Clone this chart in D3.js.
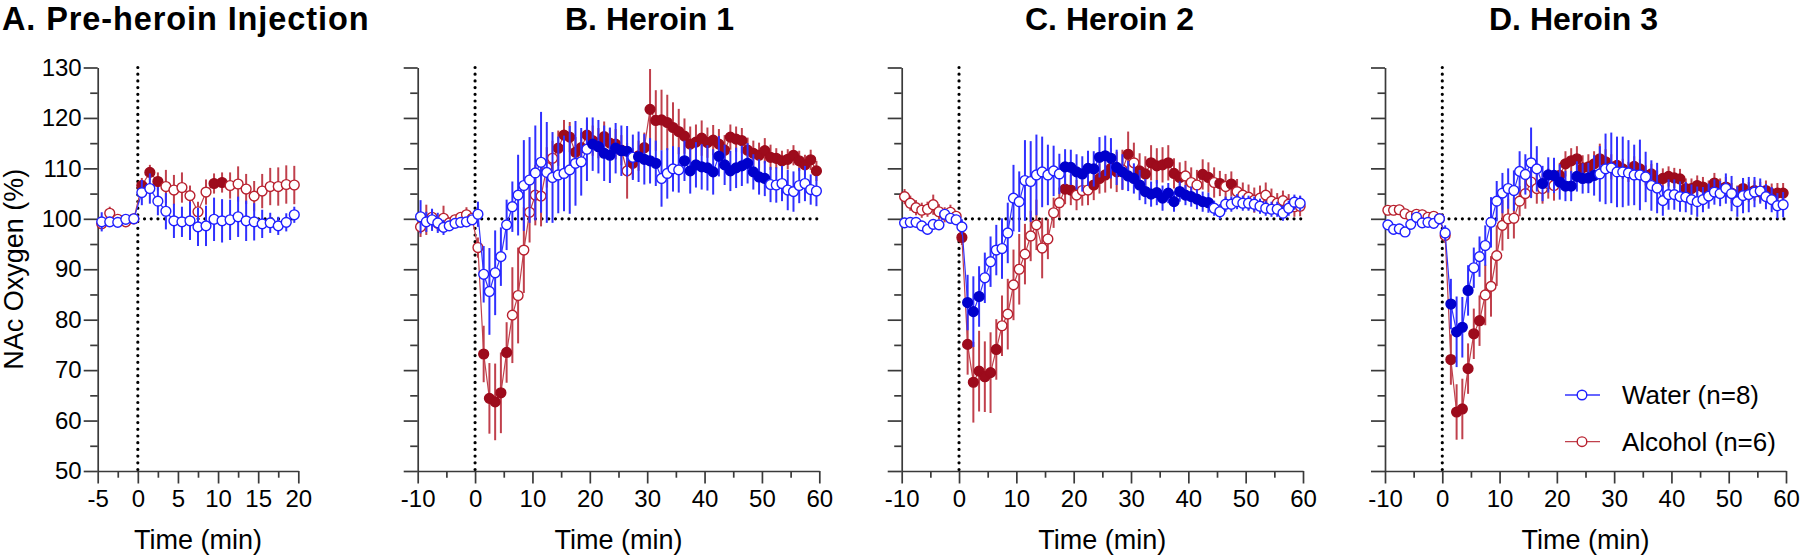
<!DOCTYPE html>
<html><head><meta charset="utf-8">
<script src="https://cdn.jsdelivr.net/npm/d3@7"></script>
<style>
body{margin:0;background:#fff}
svg{display:block}
text{font-family:"Liberation Sans",Arial,Helvetica,sans-serif;fill:#000}
</style>
</head><body><svg id="c" width="1800" height="556"></svg>
<script>
// ---------- data ----------
const timesA = [-4.5,-3.5,-2.5,-1.5,-0.5,0.5,1.5,2.5,3.5,4.5,5.5,6.5,7.5,8.5,9.5,10.5,11.5,12.5,13.5,14.5,15.5,16.5,17.5,18.5,19.5];
const timesH = [-9.5,-8.5,-7.5,-6.5,-5.5,-4.5,-3.5,-2.5,-1.5,-0.5,
  0.5,1.5,2.5,3.5,4.5,5.5,6.5,7.5,8.5,9.5,10.5,11.5,12.5,13.5,14.5,15.5,16.5,17.5,18.5,19.5,
  20.5,21.5,22.5,23.5,24.5,25.5,26.5,27.5,28.5,29.5,30.5,31.5,32.5,33.5,34.5,35.5,36.5,37.5,38.5,39.5,
  40.5,41.5,42.5,43.5,44.5,45.5,46.5,47.5,48.5,49.5,50.5,51.5,52.5,53.5,54.5,55.5,56.5,57.5,58.5,59.5];

const yMajor = [50,60,70,80,90,100,110,120,130];
const yMinor = [55,65,75,85,95,105,115,125];
const xMajorA = [-5,0,5,10,15,20];
const xMinorA = [-2.5,2.5,7.5,12.5,17.5];
const xMajorH = [-10,0,10,20,30,40,50,60];
const xMinorH = [-5,5,15,25,35,45,55];

const titles = ["A. Pre-heroin Injection","B. Heroin 1","C. Heroin 2","D. Heroin 3"];
const seriesNames = ["Water (n=8)","Alcohol (n=6)"];

// Panel A
const waterA = [99.4,99.4,99.3,99.9,100.0,105.2,106.0,103.5,101.5,99.6,99.4,99.6,98.4,98.6,99.9,99.6,99.8,100.4,99.6,99.4,99.0,99.2,98.6,99.3,100.8];
const waterA_sem = [1.9,1.0,0.6,0.6,0.5,2.5,3.0,2.8,3.6,3.4,3.0,3.8,3.8,4.0,4.3,4.3,4.0,4.0,4.0,3.7,2.8,2.0,1.8,1.8,1.6];
const waterA_sig = [0,0,0,0,0,0,0,0,0,0,0,0,0,0,0,0,0,0,0,0,0,0,0,0,0];
const alcA = [99.0,101.1,99.9,99.4,100.0,106.6,109.2,107.4,106.4,105.7,106.2,104.6,101.4,105.3,107.0,107.2,106.6,106.9,105.9,104.5,105.5,106.4,106.4,106.8,106.7];
const alcA_sem = [1.0,1.3,0.6,0.6,0.5,1.5,1.5,1.8,3.3,3.0,3.0,2.0,2.0,2.5,2.0,2.0,2.6,3.5,3.0,3.0,3.4,3.7,3.8,3.8,3.8];
const alcA_sig = [0,0,0,0,0,1,1,1,0,0,0,0,0,0,1,1,0,0,0,0,0,0,0,0,0];

// Panel B (Heroin 1)
const waterB = [100.4,99.4,99.8,99.2,98.3,98.6,99.1,99.3,99.4,99.8,
  100.9,89.0,85.6,89.3,92.5,98.8,102.4,104.7,106.6,107.7,
  109.1,111.2,109.2,108.2,108.7,109.0,109.7,111.0,111.3,113.8,
  114.8,114.3,113.0,112.6,114.0,113.5,113.4,112.2,112.3,111.8,
  111.5,111.0,108.0,109.0,109.9,109.7,111.5,109.5,110.7,110.3,
  110.1,109.3,112.4,110.7,109.5,110.1,110.5,111.0,109.3,108.3,
  108.0,106.8,106.7,107.0,105.7,105.4,106.6,107.0,105.8,105.5];
const waterB_sem = [3.3,2.0,2.2,2.0,1.5,1.0,0.8,0.8,0.8,0.8,
  2.5,5.6,8.6,8.4,5.8,5.0,5.0,8.0,9.0,8.5,
  9.4,10.0,10.0,9.0,7.6,7.5,8.7,8.4,6.7,6.3,
  5.3,5.3,5.5,5.5,5.0,5.0,5.0,4.5,5.0,5.0,
  4.5,4.5,5.6,5.0,4.5,4.5,4.0,4.5,4.5,4.5,
  4.5,4.5,4.0,4.0,4.0,4.0,4.0,4.0,3.5,3.5,
  3.5,3.5,3.5,3.5,4.0,4.0,3.5,3.5,3.0,3.0];
const waterB_sig = [0,0,0,0,0,0,0,0,0,0, 0,0,0,0,0,0,0,0,0,0, 0,0,0,0,0,0,0,0,0,0,
  1,1,1,1,1,1,1,0,1,1, 1,1,0,0,0,0,1,1,1,1, 1,1,1,1,1,1,1,1,1,1, 1,0,0,0,0,0,0,0,0,0];
const alcB = [98.4,99.8,100.3,99.1,100.1,99.2,99.8,100.3,100.8,100.1,
  94.3,73.2,64.4,63.7,65.5,73.5,80.9,84.8,93.8,101.3,
  104.7,104.5,110.2,112.0,114.0,116.6,116.2,113.2,114.1,116.6,
  115.5,115.0,116.3,115.0,114.8,113.6,109.5,111.0,112.5,114.1,
  121.7,119.5,119.6,119.1,118.1,117.3,116.4,114.8,115.2,116.0,
  115.1,115.6,114.8,113.6,116.2,115.8,115.5,113.6,113.0,112.6,
  113.5,112.2,112.0,111.5,111.8,112.6,111.5,110.7,111.7,109.5];
const alcB_sem = [2.0,3.0,1.5,1.5,2.5,1.0,1.0,1.0,1.5,1.0,
  2.0,5.6,7.0,7.6,8.0,6.0,9.5,9.5,8.5,6.0,
  6.0,6.0,4.0,3.5,3.5,3.0,3.0,3.0,3.0,3.0,
  3.0,3.0,3.0,3.0,3.0,3.0,5.5,3.0,3.0,3.0,
  8.0,6.0,6.0,5.5,5.0,4.5,3.5,3.5,3.5,3.5,
  3.0,3.0,3.0,3.0,2.5,2.5,2.5,2.5,2.5,2.5,
  2.5,2.5,2.0,2.0,2.0,2.0,2.0,2.0,2.0,2.0];
const alcB_sig = [0,0,0,0,0,0,0,0,0,0, 0,1,1,1,1,1,0,0,0,0, 0,0,0,0,1,1,1,1,1,1,
  1,1,1,1,1,1,0,1,1,1, 1,1,1,1,1,1,1,1,1,1, 1,1,1,1,1,1,1,1,1,1, 1,1,1,1,1,1,1,1,1,1];

// Panel C (Heroin 2)
const waterC = [99.2,99.3,99.3,98.6,97.9,98.9,98.8,100.9,100.1,99.8,
  98.4,83.4,81.6,84.6,88.3,91.5,93.8,94.1,97.2,104.1,
  103.4,107.6,107.4,108.7,109.3,108.7,109.5,108.9,110.3,110.2,
  109.3,108.9,110.0,109.9,112.2,112.5,112.0,110.2,109.3,108.5,
  108.0,106.7,105.4,104.9,105.2,104.1,105.1,103.4,105.4,104.7,
  104.4,103.9,103.4,103.2,102.1,101.4,102.9,102.9,103.4,103.1,
  103.1,102.9,102.5,102.1,101.9,101.9,101.1,102.1,103.3,103.1];
const waterC_sem = [1.0,1.0,1.0,1.0,1.0,1.0,1.0,1.0,1.0,1.0,
  1.5,5.5,7.0,6.0,5.0,5.0,5.0,6.0,6.0,6.6,
  6.0,8.0,8.0,8.0,7.0,6.0,5.0,4.0,3.5,3.5,
  3.5,3.5,3.5,3.5,4.0,4.0,4.0,3.5,3.5,3.0,
  3.0,3.0,2.5,2.5,2.5,2.5,2.0,2.0,2.0,2.0,
  2.0,2.0,2.0,2.0,1.5,1.5,1.5,1.5,1.5,1.5,
  1.5,1.5,1.5,1.5,1.5,1.5,1.5,1.5,1.5,1.5];
const waterC_sig = [0,0,0,0,0,0,0,0,0,0, 0,1,1,1,0,0,0,0,0,0, 0,0,0,0,0,0,0,0,1,1,
  1,1,1,1,1,1,1,1,1,1, 1,1,1,1,1,1,1,1,1,1, 1,1,1,1,0,0,0,0,0,0, 0,0,0,0,0,0,0,0,0,0];
const alcC = [104.4,103.1,102.2,101.7,101.9,102.8,101.4,100.8,101.3,100.5,
  96.3,75.1,67.6,69.8,68.7,69.5,74.1,78.8,81.1,86.9,
  90.0,93.0,96.6,98.8,94.2,96.0,101.2,103.2,105.9,105.7,
  104.7,105.6,105.7,106.7,108.0,108.7,110.0,109.3,109.7,112.8,
  111.1,109.5,108.9,111.1,110.5,110.7,111.1,109.0,108.2,108.5,
  107.2,106.7,108.8,108.2,107.2,107.0,106.4,106.9,105.4,104.7,
  104.3,103.7,104.1,104.7,103.5,103.1,103.6,102.9,102.4,102.5];
const alcC_sem = [1.5,1.5,1.5,1.5,1.5,2.0,1.5,1.5,1.5,1.0,
  1.5,6.0,8.0,8.0,7.0,8.0,6.0,6.0,7.0,7.0,
  7.0,6.0,5.0,5.0,6.0,4.0,3.0,3.0,3.0,3.0,
  3.0,3.0,3.0,3.0,3.0,3.5,4.0,4.0,4.0,4.5,
  4.0,3.5,3.5,3.5,3.5,3.5,3.5,3.0,3.0,3.0,
  3.0,3.0,3.0,3.0,3.0,2.5,2.5,2.5,2.5,2.5,
  2.5,2.5,2.5,2.5,2.5,2.0,2.0,2.0,2.0,2.0];
const alcC_sig = [0,0,0,0,0,0,0,0,0,0, 1,1,1,1,1,1,1,0,0,0, 0,0,0,0,0,0,0,0,1,1,
  0,0,0,1,1,1,1,1,0,1, 0,1,1,1,1,1,1,1,1,0, 0,0,1,1,0,1,0,1,0,0, 0,0,0,0,0,0,0,0,0,0];

// Panel D (Heroin 3)
const waterD = [98.8,97.9,98.0,97.4,98.9,100.3,99.2,99.3,99.1,100.0,
  97.2,83.1,77.6,78.5,85.8,90.3,92.5,94.7,99.3,103.5,
  105.1,106.0,105.6,109.4,108.8,111.1,109.9,107.0,108.7,108.6,
  107.3,106.5,106.5,108.4,108.0,108.1,108.6,108.9,109.9,110.1,
  109.3,109.3,109.1,108.7,108.7,108.3,106.6,106.1,103.6,104.8,
  104.8,104.4,104.3,103.8,103.4,103.8,104.5,105.3,105.0,106.0,
  105.0,103.4,104.6,104.8,105.3,105.5,104.4,103.8,102.6,102.8];
const waterD_sem = [1.0,1.0,1.0,1.0,1.0,1.0,1.0,1.0,1.0,1.0,
  1.5,5.0,7.0,6.0,5.0,4.0,4.0,4.0,5.0,4.0,
  4.0,4.0,4.0,4.0,4.0,7.0,4.5,3.5,3.5,3.5,
  3.5,3.0,3.0,3.0,3.0,3.0,4.0,5.5,7.0,7.0,
  7.0,7.0,6.5,6.0,7.0,5.0,5.0,5.0,3.0,3.0,
  3.0,3.0,3.0,3.0,3.0,2.5,2.5,2.5,2.5,3.0,
  3.5,3.0,3.5,3.5,3.0,2.5,2.5,2.5,2.5,2.5];
const waterD_sig = [0,0,0,0,0,0,0,0,0,0, 0,1,1,1,1,0,0,0,0,0, 0,0,0,0,0,0,0,1,1,1,
  1,1,1,1,1,1,1,0,0,0, 0,0,0,0,0,0,0,0,0,0, 0,0,0,0,0,0,0,0,0,0, 0,0,0,0,0,0,0,0,0,0];
const alcD = [101.7,101.7,101.8,101.0,100.5,100.9,100.8,100.3,100.5,100.0,
  96.7,72.1,61.7,62.3,70.3,77.2,79.8,84.9,86.6,92.7,
  98.7,100.0,100.1,103.5,105.0,107.3,106.0,106.0,107.0,106.6,
  108.6,110.9,111.5,111.9,110.1,110.3,110.9,111.9,111.3,110.3,
  110.6,109.9,109.3,110.4,109.9,108.6,108.9,107.6,108.0,108.4,
  108.1,107.9,106.0,106.0,106.6,106.3,105.6,107.1,106.0,106.3,
  105.1,104.6,106.0,105.3,105.6,105.3,105.6,105.0,105.1,105.1];
const alcD_sem = [1.0,1.0,1.0,1.0,1.0,1.0,1.0,1.0,1.0,1.0,
  1.5,5.0,5.5,6.0,5.0,5.0,5.0,6.0,6.0,6.0,
  5.0,4.0,4.0,3.0,3.0,3.0,3.0,3.0,3.0,3.0,
  2.5,2.5,2.5,2.5,2.5,2.5,2.5,3.0,2.5,2.5,
  2.0,2.0,2.0,2.0,2.0,2.0,2.0,2.0,2.0,2.0,
  2.0,2.0,2.0,2.0,2.0,2.0,2.0,2.0,2.0,2.0,
  2.0,2.0,2.0,2.0,2.0,2.0,2.0,2.0,2.0,2.0];
const alcD_sig = [0,0,0,0,0,0,0,0,0,0, 0,1,1,1,1,1,1,0,0,0, 0,0,0,0,0,0,0,0,0,0,
  1,1,1,1,1,1,1,1,1,1, 1,1,1,1,1,1,1,1,1,1, 1,1,1,1,1,1,1,1,1,1, 1,1,1,1,1,1,1,1,1,1];

// ---------- layout / style ----------
const FONT = '"Liberation Sans",Arial,Helvetica,sans-serif';
const AX = "#3a3a3a";
const COL = {
  water:{open:"#1f1fff", fill:"#0000cc", bar:"#3030ff", line:"#3333ff"},
  alc:{open:"#b8202e", fill:"#9d0b1c", bar:"#c0404c", line:"#c0404c"}
};
const yTop = 67.5, yBot = 471;
const y = d3.scaleLinear().domain([50,130]).range([yBot, yTop]);
const fmt = d => String(d);   // plain hyphen-minus like the reference

const panels = [
  {title:titles[0], tx:2, tsize:32.5, tls:0.9, range:[97.7,298.3],  dom:[-5,20], maj:xMajorA, min:xMinorA, t:timesA,
   w:waterA, ws:waterA_sem, wf:waterA_sig, a:alcA, as:alcA_sem, af:alcA_sig, showY:true},
  {title:titles[1], tx:565, tsize:32, tls:0, range:[417.7,819.3], dom:[-10,60], maj:xMajorH, min:xMinorH, t:timesH,
   w:waterB, ws:waterB_sem, wf:waterB_sig, a:alcB, as:alcB_sem, af:alcB_sig},
  {title:titles[2], tx:1025, tsize:32, tls:0, range:[901.7,1303], dom:[-10,60], maj:xMajorH, min:xMinorH, t:timesH,
   w:waterC, ws:waterC_sem, wf:waterC_sig, a:alcC, as:alcC_sem, af:alcC_sig},
  {title:titles[3], tx:1489, tsize:32, tls:0, range:[1385,1786],  dom:[-10,60], maj:xMajorH, min:xMinorH, t:timesH,
   w:waterD, ws:waterD_sem, wf:waterD_sig, a:alcD, as:alcD_sem, af:alcD_sig}
];

const svg = d3.select("#c");

function styleAxis(g){
  g.attr("font-family", FONT).attr("font-size", 24);
  g.selectAll(".domain").attr("stroke", AX).attr("stroke-width", 1.7);
  g.selectAll(".tick line").attr("stroke", AX).attr("stroke-width", 1.7);
  g.selectAll(".tick text").attr("fill", "#000");
}

panels.forEach(p => {
  const g = svg.append("g");
  const x = d3.scaleLinear().domain(p.dom).range(p.range);

  // title
  g.append("text").attr("x", p.tx).attr("y", 29.5).attr("font-weight", "bold")
    .attr("font-size", p.tsize).attr("letter-spacing", p.tls).text(p.title);

  // y axis
  const ya = g.append("g").attr("transform", `translate(${p.range[0]},0)`)
    .call(d3.axisLeft(y).tickValues(yMajor).tickSize(14).tickPadding(2).tickSizeOuter(0)
      .tickFormat(p.showY ? fmt : () => ""));
  styleAxis(ya);
  const ym = g.append("g").attr("transform", `translate(${p.range[0]},0)`)
    .call(d3.axisLeft(y).tickValues(yMinor).tickSize(7.5).tickSizeOuter(0).tickFormat(() => ""));
  ym.select(".domain").remove();
  styleAxis(ym);

  // x axis
  const xa = g.append("g").attr("transform", `translate(0,${yBot})`)
    .call(d3.axisBottom(x).tickValues(p.maj).tickSize(12.5).tickPadding(6.5).tickSizeOuter(0)
      .tickFormat(fmt));
  styleAxis(xa);
  const xm = g.append("g").attr("transform", `translate(0,${yBot})`)
    .call(d3.axisBottom(x).tickValues(p.min).tickSize(6.7).tickSizeOuter(0).tickFormat(() => ""));
  xm.select(".domain").remove();
  styleAxis(xm);

  // x title
  g.append("text").attr("x", (p.range[0]+p.range[1])/2).attr("y", 549)
    .attr("text-anchor", "middle").attr("font-size", 27).text("Time (min)");

  // y title
  if (p.showY) {
    g.append("text").attr("transform", `translate(23,${(yTop+yBot)/2}) rotate(-90)`)
      .attr("text-anchor", "middle").attr("font-size", 27).text("NAc Oxygen (%)");
  }

  // reference dotted lines
  const dot = {stroke:"#000", "stroke-width":3.2, "stroke-linecap":"round", "stroke-dasharray":"0 6.7"};
  const vl = g.append("line").attr("x1", x(0)).attr("x2", x(0)).attr("y1", y(130)).attr("y2", y(50));
  const hl = g.append("line").attr("x1", x(0)).attr("x2", x(p.dom[1])).attr("y1", y(100)).attr("y2", y(100));
  [vl, hl].forEach(l => Object.entries(dot).forEach(([k,v]) => l.attr(k, v)));

  // series
  const series = [
    {vals:p.a, sem:p.as, sig:p.af, c:COL.alc},
    {vals:p.w, sem:p.ws, sig:p.wf, c:COL.water}
  ];
  series.forEach(s => {
    const data = p.t.map((t,i) => ({t, v:s.vals[i], e:s.sem[i], f:s.sig[i]}));
    const sg = g.append("g");
    sg.selectAll("line.err").data(data).join("line").attr("class","err")
      .attr("x1", d => x(d.t)).attr("x2", d => x(d.t))
      .attr("y1", d => y(d.v - d.e)).attr("y2", d => y(d.v + d.e))
      .attr("stroke", s.c.bar).attr("stroke-width", 2);
    sg.append("path").datum(data)
      .attr("d", d3.line().x(d => x(d.t)).y(d => y(d.v)))
      .attr("fill", "none").attr("stroke", s.c.line).attr("stroke-width", 1.2);
    sg.selectAll("circle").data(data).join("circle")
      .attr("cx", d => x(d.t)).attr("cy", d => y(d.v)).attr("r", 4.9)
      .attr("fill", d => d.f ? s.c.fill : "#fff")
      .attr("stroke", d => d.f ? s.c.fill : s.c.open)
      .attr("stroke-width", 1.4);
  });
});

// legend
const leg = svg.append("g");
[{name:seriesNames[0], c:COL.water, yy:395},{name:seriesNames[1], c:COL.alc, yy:441.7}].forEach(L => {
  leg.append("line").attr("x1", 1565).attr("x2", 1600).attr("y1", L.yy).attr("y2", L.yy)
    .attr("stroke", L.c.line).attr("stroke-width", 1.3);
  leg.append("circle").attr("cx", 1582).attr("cy", L.yy).attr("r", 4.8)
    .attr("fill", "#fff").attr("stroke", L.c.open).attr("stroke-width", 1.4);
  leg.append("text").attr("x", 1622).attr("y", L.yy).attr("dy", "0.36em")
    .attr("font-size", 26).text(L.name);
});
</script>
</body></html>
